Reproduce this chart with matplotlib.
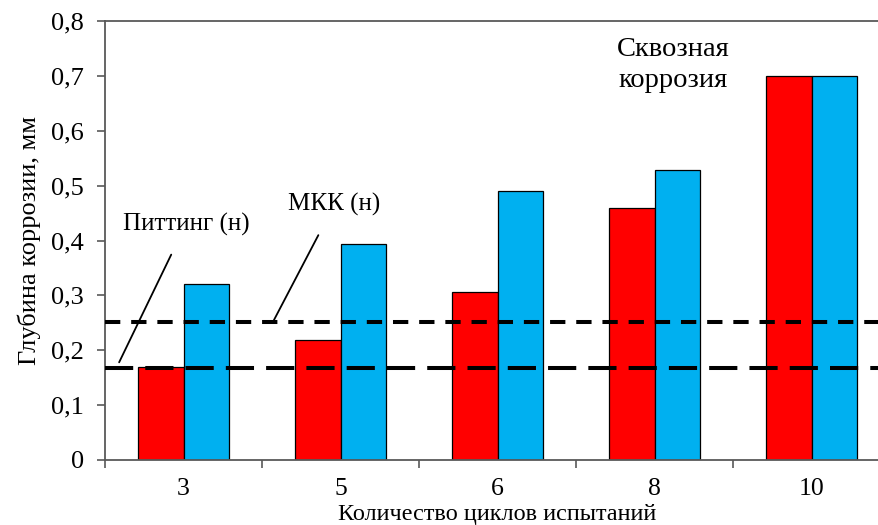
import matplotlib.pyplot as plt
import numpy as np

cycles = ["3", "5", "6", "8", "10"]
pitting_depth = [0.169, 0.218, 0.306, 0.459, 0.70]
mkk_depth = [0.32, 0.393, 0.49, 0.528, 0.70]
pitting_norm = 0.167
mkk_norm = 0.251

plt.rcParams["font.family"] = ["Liberation Serif", "DejaVu Serif"]

fig = plt.figure(figsize=(8.79, 5.25), dpi=100)
# axes deliberately runs past the right edge, as in the original
ax = fig.add_axes([105 / 879, 65 / 525, 785 / 879, 439 / 525])

x = np.arange(len(cycles))
w = 0.287
ax.bar(x - w / 2, pitting_depth, w, color="#FF0000", edgecolor="black", linewidth=0.9, zorder=2)
ax.bar(x + w / 2, mkk_depth, w, color="#00B0F0", edgecolor="black", linewidth=0.9, zorder=2)

ax.axhline(mkk_norm, color="black", lw=2.9, dashes=(3.8, 2.7), zorder=3)
ax.axhline(pitting_norm, color="black", lw=2.9, dashes=(7, 3), zorder=3)

ax.set_xlim(-0.5, 4.5)
ax.set_ylim(0, 0.8)
ax.set_yticks(np.arange(0, 0.81, 0.1))
ax.set_yticklabels([f"{v:.1f}".replace(".", ",") if v > 0 else "0" for v in np.arange(0, 0.81, 0.1)])

ax.set_xticks(np.arange(-0.5, 4.6, 1))
ax.set_xticklabels([])
ax.set_xticks(x, minor=True)
ax.set_xticklabels(cycles, minor=True)
ax.tick_params(axis="x", which="minor", length=0, pad=13, labelsize=18.5)
ax.tick_params(axis="x", which="major", length=6, width=1.2, color="#595959")
ax.tick_params(axis="y", length=6, width=1.2, color="#595959", pad=9, labelsize=19)

for s in ["left", "bottom", "top"]:
    ax.spines[s].set_color("#595959")
    ax.spines[s].set_linewidth(1.3)
ax.spines["right"].set_visible(False)

ax.set_ylabel("Глубина коррозии, мм", fontsize=19)
ax.yaxis.set_label_coords(-0.081, 0.5)
ax.set_xlabel("Количество циклов испытаний", fontsize=17.5)
ax.xaxis.set_label_coords(0.5, -0.1)

ax.annotate("Питтинг (н)", xy=(-0.41, 0.178), xytext=(0.016, 0.43),
            ha="center", va="center", fontsize=18,
            arrowprops=dict(arrowstyle="-", color="black", lw=1.3, shrinkA=13, shrinkB=0))
ax.annotate("МКК (н)", xy=(0.576, 0.255), xytext=(0.96, 0.465),
            ha="center", va="center", fontsize=18,
            arrowprops=dict(arrowstyle="-", color="black", lw=1.3, shrinkA=13, shrinkB=0))
ax.text(3.12, 0.72, "Сквозная\nкоррозия", ha="center", va="center", fontsize=20.5, linespacing=1.3)

fig.savefig("out.png", dpi=100)
